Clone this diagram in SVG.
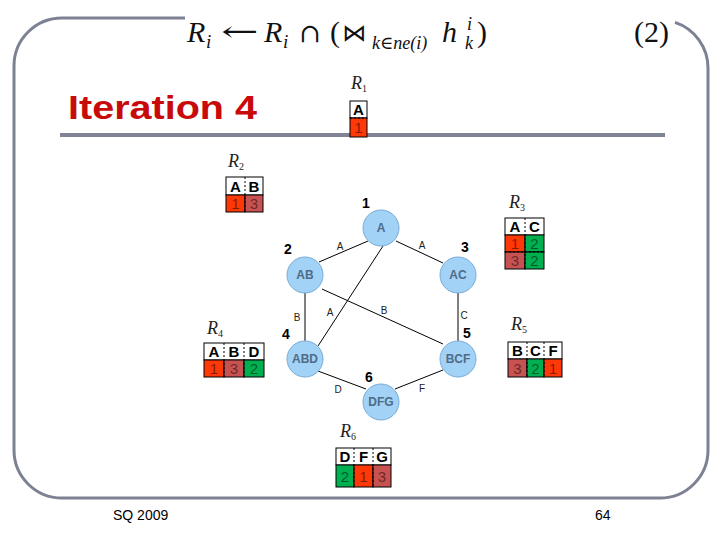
<svg xmlns="http://www.w3.org/2000/svg" width="720" height="540" viewBox="0 0 720 540">
<style>
.frame{fill:none;stroke:#7c8194;stroke-width:3}
.rule{stroke:#7f8597;stroke-width:4}
.math{font-family:"Liberation Serif","DejaVu Serif",serif;fill:#111}
.mi{font-style:italic}
.rl{font-family:"Liberation Serif","DejaVu Serif",serif;font-style:italic;fill:#222}
.cell{stroke:#000;stroke-width:1}
.hdr{fill:#fff}
.red{fill:#ff3808}
.dus{fill:#c85252}
.grn{fill:#00b050}
.div{stroke:#000;stroke-width:1;stroke-dasharray:2 2}
.ht{font-family:"Liberation Sans",Arial,sans-serif;font-weight:bold;font-size:15px;fill:#000;text-anchor:middle}
.vt{font-family:"Liberation Sans",Arial,sans-serif;font-size:15px;fill:#000;fill-opacity:0.5;text-anchor:middle}
.node circle{fill:#a2d2f6;stroke:#78acd6;stroke-width:1}
.node text{font-family:"Liberation Sans",Arial,sans-serif;font-weight:bold;font-size:12px;fill:#506b88;text-anchor:middle}
.num{font-family:"Liberation Sans",Arial,sans-serif;font-weight:bold;font-size:14px;fill:#000;text-anchor:middle}
.edge{stroke:#000;stroke-width:1}
.el{font-family:"Liberation Sans",Arial,sans-serif;font-size:10px;fill:#222;text-anchor:middle}
.foot{font-family:"Liberation Sans",Arial,sans-serif;font-size:14px;fill:#000}
</style>
<rect width="720" height="540" fill="#fff"/>
<path class="frame" d="M 185 18 H 62 A 48 48 0 0 0 14 66 V 450 A 48 48 0 0 0 62 498 H 660 A 48 48 0 0 0 708 450 V 68 A 48 48 0 0 0 675 22.4"/>
<line class="rule" x1="60" y1="135" x2="665" y2="135"/>

<g id="formula" class="math">
<text x="187" y="42" font-size="30" class="mi">R</text>
<text x="206" y="48" font-size="19" class="mi">i</text>
<text transform="translate(221,41) scale(1.6,1)" font-size="28" font-family="DejaVu Serif,serif">←</text>
<text x="264" y="42" font-size="30" class="mi">R</text>
<text x="283" y="48" font-size="19" class="mi">i</text>
<text x="299" y="42" font-size="26" font-family="DejaVu Serif,serif">∩</text>
<text x="330" y="42" font-size="30">(</text>
<text x="342" y="41" font-size="24" font-family="DejaVu Sans,sans-serif">⋈</text>
<text x="372" y="49" font-size="18" class="mi">k∈ne(i)</text>
<text x="442" y="42" font-size="30" class="mi">h</text>
<text x="467" y="30" font-size="18" class="mi">i</text>
<text x="465" y="49" font-size="18" class="mi">k</text>
<text x="477" y="42" font-size="30">)</text>
<text x="634" y="42" font-size="30">(2)</text>
</g>

<text x="68" y="119" font-family="Liberation Sans,Arial,sans-serif" font-weight="bold" font-size="34" fill="#c80a0a" textLength="189" lengthAdjust="spacingAndGlyphs">Iteration 4</text>

<g id="edges">
<line class="edge" x1="368" y1="241" x2="319" y2="262"/>
<line class="edge" x1="396" y1="241" x2="443" y2="263"/>
<line class="edge" x1="383" y1="246" x2="318" y2="346"/>
<line class="edge" x1="305" y1="293" x2="305" y2="341"/>
<line class="edge" x1="322" y1="289" x2="443" y2="344"/>
<line class="edge" x1="458" y1="293" x2="458" y2="341"/>
<line class="edge" x1="318" y1="371" x2="366" y2="389"/>
<line class="edge" x1="395" y1="389" x2="443" y2="370"/>
<text class="el" x="340" y="250">A</text>
<text class="el" x="422" y="249">A</text>
<text class="el" x="330" y="316">A</text>
<text class="el" x="297" y="321">B</text>
<text class="el" x="384" y="314">B</text>
<text class="el" x="464" y="319">C</text>
<text class="el" x="338" y="393">D</text>
<text class="el" x="422" y="392">F</text>
</g>

<g id="n1" class="node"><circle cx="381" cy="228" r="18"/><text x="381" y="232">A</text></g>
<g id="n2" class="node"><circle cx="305" cy="275" r="18"/><text x="305" y="279">AB</text></g>
<g id="n3" class="node"><circle cx="458" cy="275" r="18"/><text x="458" y="279">AC</text></g>
<g id="n4" class="node"><circle cx="305" cy="359" r="18"/><text x="305" y="363">ABD</text></g>
<g id="n5" class="node"><circle cx="458" cy="359" r="18"/><text x="458" y="363">BCF</text></g>
<g id="n6" class="node"><circle cx="381" cy="402" r="18"/><text x="381" y="406">DFG</text></g>

<g id="numbers">
<text class="num" x="366" y="208">1</text>
<text class="num" x="288" y="254">2</text>
<text class="num" x="465" y="252">3</text>
<text class="num" x="286" y="339">4</text>
<text class="num" x="467" y="338">5</text>
<text class="num" x="369" y="382">6</text>
</g>

<g id="R1">
<text class="rl" x="351" y="89" font-size="18">R<tspan font-size="10" dy="3" font-style="normal">1</tspan></text>
<rect class="cell hdr" x="350" y="101" width="17" height="17"/>
<rect class="cell red" x="350" y="118" width="17" height="19"/>
<line class="div" x1="350" y1="118" x2="367" y2="118"/>
<text class="ht" x="358.5" y="115">A</text>
<text class="vt" x="358.5" y="133">1</text>
</g>

<g id="R2">
<text class="rl" x="228" y="167" font-size="18">R<tspan font-size="10" dy="3" font-style="normal">2</tspan></text>
<rect class="cell hdr" x="226" y="177" width="37" height="18"/>
<rect class="cell red" x="226" y="195" width="19" height="17"/>
<rect class="cell dus" x="245" y="195" width="18" height="17"/>
<line class="div" x1="245" y1="177" x2="245" y2="212"/>
<text class="ht" x="235.5" y="192">A</text>
<text class="ht" x="254" y="192">B</text>
<text class="vt" x="235.5" y="209">1</text>
<text class="vt" x="254" y="209">3</text>
</g>

<g id="R3">
<text class="rl" x="509" y="208" font-size="18">R<tspan font-size="10" dy="3" font-style="normal">3</tspan></text>
<rect class="cell hdr" x="505" y="218" width="39" height="17"/>
<rect class="cell red" x="505" y="235" width="20" height="17"/>
<rect class="cell grn" x="525" y="235" width="19" height="17"/>
<rect class="cell dus" x="505" y="252" width="20" height="17"/>
<rect class="cell grn" x="525" y="252" width="19" height="17"/>
<line class="div" x1="525" y1="218" x2="525" y2="269"/>
<line class="div" x1="505" y1="252" x2="544" y2="252"/>
<text class="ht" x="515" y="232">A</text>
<text class="ht" x="534.5" y="232">C</text>
<text class="vt" x="515" y="249">1</text>
<text class="vt" x="534.5" y="249">2</text>
<text class="vt" x="515" y="266">3</text>
<text class="vt" x="534.5" y="266">2</text>
</g>

<g id="R4">
<text class="rl" x="207" y="334" font-size="18">R<tspan font-size="10" dy="3" font-style="normal">4</tspan></text>
<rect class="cell hdr" x="204" y="343" width="60" height="17"/>
<rect class="cell red" x="204" y="360" width="20" height="17"/>
<rect class="cell dus" x="224" y="360" width="20" height="17"/>
<rect class="cell grn" x="244" y="360" width="20" height="17"/>
<line class="div" x1="224" y1="343" x2="224" y2="377"/>
<line class="div" x1="244" y1="343" x2="244" y2="377"/>
<text class="ht" x="214" y="357">A</text>
<text class="ht" x="234" y="357">B</text>
<text class="ht" x="254" y="357">D</text>
<text class="vt" x="214" y="374">1</text>
<text class="vt" x="234" y="374">3</text>
<text class="vt" x="254" y="374">2</text>
</g>

<g id="R5">
<text class="rl" x="511" y="330" font-size="18">R<tspan font-size="10" dy="3" font-style="normal">5</tspan></text>
<rect class="cell hdr" x="508" y="342" width="54" height="17"/>
<rect class="cell dus" x="508" y="359" width="19" height="18"/>
<rect class="cell grn" x="527" y="359" width="17" height="18"/>
<rect class="cell red" x="544" y="359" width="18" height="18"/>
<line class="div" x1="527" y1="342" x2="527" y2="377"/>
<line class="div" x1="544" y1="342" x2="544" y2="377"/>
<text class="ht" x="517.5" y="356">B</text>
<text class="ht" x="535.5" y="356">C</text>
<text class="ht" x="553" y="356">F</text>
<text class="vt" x="517.5" y="374">3</text>
<text class="vt" x="535.5" y="374">2</text>
<text class="vt" x="553" y="374">1</text>
</g>

<g id="R6">
<text class="rl" x="340" y="437" font-size="18">R<tspan font-size="10" dy="3" font-style="normal">6</tspan></text>
<rect class="cell hdr" x="336" y="448" width="55" height="17"/>
<rect class="cell grn" x="336" y="465" width="18" height="22"/>
<rect class="cell red" x="354" y="465" width="19" height="22"/>
<rect class="cell dus" x="373" y="465" width="18" height="22"/>
<line class="div" x1="354" y1="448" x2="354" y2="487"/>
<line class="div" x1="373" y1="448" x2="373" y2="487"/>
<text class="ht" x="345" y="462">D</text>
<text class="ht" x="363.5" y="462">F</text>
<text class="ht" x="382" y="462">G</text>
<text class="vt" x="345" y="482">2</text>
<text class="vt" x="363.5" y="482">1</text>
<text class="vt" x="382" y="482">3</text>
</g>

<text class="foot" x="113" y="520">SQ 2009</text>
<text class="foot" x="595" y="520">64</text>
</svg>
